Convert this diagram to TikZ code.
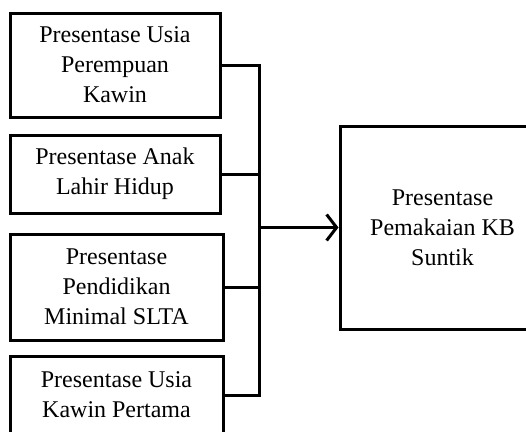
\documentclass[tikz,border=0pt]{standalone}
\usepackage{fontspec}
\setmainfont{Liberation Serif}
\usetikzlibrary{arrows.meta}

\begin{document}
\begin{tikzpicture}[x=1pt,y=-1pt,
  kotak/.style={draw,line width=3,align=center,inner sep=0,
    font=\fontsize{24}{30}\selectfont},
  garis/.style={line width=3}]
  \clip (0,0) rectangle (526,431);
  \fill[white] (0,0) rectangle (526,431);

  \node[kotak,minimum width=210,minimum height=104] (usia) at (115,65)
    {Presentase Usia\\Perempuan\\Kawin};
  \node[kotak,minimum width=210,minimum height=78] (anak) at (115,174)
    {Presentase Anak\\Lahir Hidup};
  \node[kotak,minimum width=213,minimum height=106] (didik) at (116.5,287)
    {Presentase\\Pendidikan\\Minimal SLTA};
  \node[kotak,minimum width=213,minimum height=78] (kawin) at (116.5,395)
    {Presentase Usia\\Kawin Pertama};
  \node[kotak,minimum width=205,minimum height=203] (suntik) at (442.5,227.5)
    {Presentase\\Pemakaian KB\\Suntik};

  \coordinate (atas) at (259,65);
  \coordinate (bawah) at (259,395);
  \coordinate (tengah) at (259,227.5);

  \draw[garis] (usia.east) -- (atas) -- (bawah) -- (kawin.east);
  \draw[garis] (anak.east) -- (anak.east -| atas);
  \draw[garis] (didik.east) -- (didik.east -| atas);
  \draw[garis,-{Straight Barb[length=10,width=26,line width=3]}] (tengah) -- (suntik.west);
\end{tikzpicture}
\end{document}
